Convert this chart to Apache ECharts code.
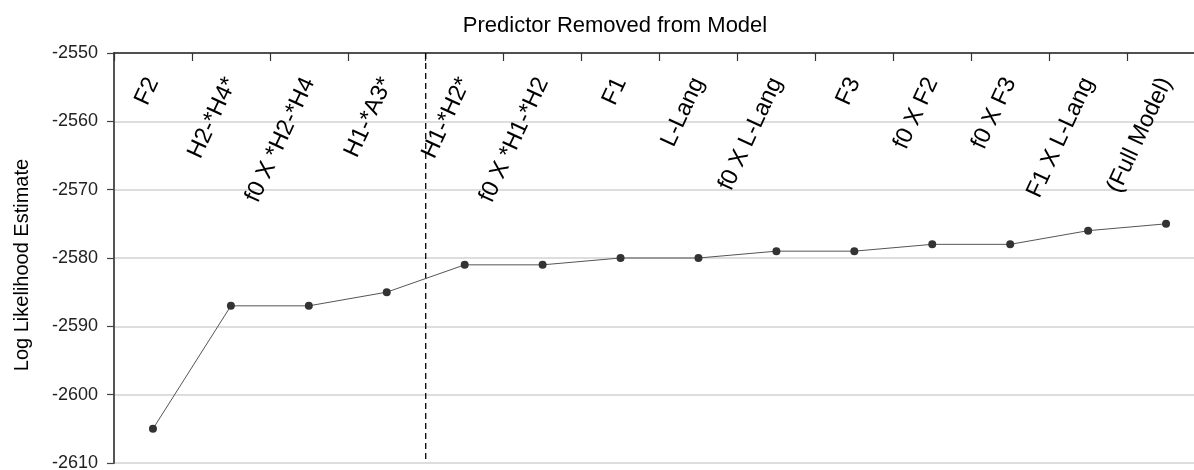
<!DOCTYPE html>
<html>
<head>
<meta charset="utf-8">
<script src="https://cdn.jsdelivr.net/npm/echarts@6/dist/echarts.min.js"></script>
<style>
  html, body { margin: 0; padding: 0; background: #fff; }
  #chart { width: 1194px; height: 470px; }
</style>
</head>
<body>
<div id="chart"></div>
<script>
// Predictor removed at each step, left to right
const predictors = [
  'F2', 'H2-*H4*', 'f0 X *H2-*H4', 'H1-*A3*', 'H1-*H2*', 'f0 X *H1-*H2',
  'F1', 'L-Lang', 'f0 X L-Lang', 'F3', 'f0 X F2', 'f0 X F3',
  'F1 X L-Lang', '(Full Model)'
];
// Log likelihood of the model after removing each predictor
const logLikelihood = [
  -2605, -2587, -2587, -2585, -2581, -2581,
  -2580, -2580, -2579, -2579, -2578, -2578,
  -2576, -2575
];
// Y axis range and step
const yTicks = { min: -2610, max: -2550, step: 10 };
// Category boundary where the dashed divider is drawn (between H1-*A3* and H1-*H2*)
const dividerAt = 4;

const chart = echarts.init(document.getElementById('chart'), null, { renderer: 'canvas' });
const font = 'Liberation Sans, Arial, sans-serif';

chart.setOption({
  animation: false,
  backgroundColor: '#ffffff',
  title: {
    text: 'Predictor Removed from Model',
    left: 610,
    top: 10,
    textAlign: 'center',
    textStyle: { fontFamily: font, fontSize: 22, fontWeight: 'normal', color: '#000' }
  },
  grid: { left: 114, top: 53, right: -11, bottom: 7, containLabel: false, outerBoundsMode: 'none' },
  xAxis: [
    {
      type: 'category',
      position: 'top',
      data: predictors,
      boundaryGap: true,
      axisLine: { show: true, lineStyle: { color: '#222', width: 1.5 } },
      axisTick: { show: true, inside: true, length: 8, lineStyle: { color: '#333', width: 1.2 } },
      axisLabel: {
        inside: true,
        rotate: -65,
        margin: 26,
        align: 'right',
        verticalAlign: 'middle',
        interval: 0,
        hideOverlap: false,
        fontFamily: font,
        fontSize: 23.5,
        color: '#000'
      },
      splitLine: { show: false }
    },
    {
      // invisible linear axis spanning the categories, used to place the divider on a boundary
      type: 'value',
      position: 'bottom',
      min: 0,
      max: predictors.length,
      show: false
    }
  ],
  yAxis: {
    type: 'value',
    name: 'Log Likelihood Estimate',
    nameLocation: 'middle',
    nameGap: 82,
    nameTextStyle: { fontFamily: font, fontSize: 20, color: '#000', padding: [0, 14, 0, 0] },
    min: yTicks.min,
    max: yTicks.max,
    interval: yTicks.step,
    axisLine: { show: true, lineStyle: { color: '#555', width: 2 } },
    axisTick: { show: true, inside: false, length: 7, lineStyle: { color: '#444', width: 1.2 } },
    axisLabel: {
      fontFamily: font, fontSize: 18, color: '#222', margin: 16,
      formatter: (v) => String(v)
    },
    splitLine: { show: true, lineStyle: { color: '#d2d2d2', width: 1.5 } }
  },
  series: [
    {
      type: 'line',
      xAxisIndex: 0,
      data: logLikelihood,
      symbol: 'circle',
      symbolSize: 8,
      lineStyle: { color: '#555', width: 1 },
      itemStyle: { color: '#333' },
      z: 5
    },
    {
      type: 'line',
      xAxisIndex: 1,
      data: [[dividerAt, yTicks.max], [dividerAt, yTicks.min]],
      symbol: 'none',
      lineStyle: { color: '#000', width: 1.3, type: [6, 4] },
      z: 4
    }
  ]
});
</script>
</body>
</html>
